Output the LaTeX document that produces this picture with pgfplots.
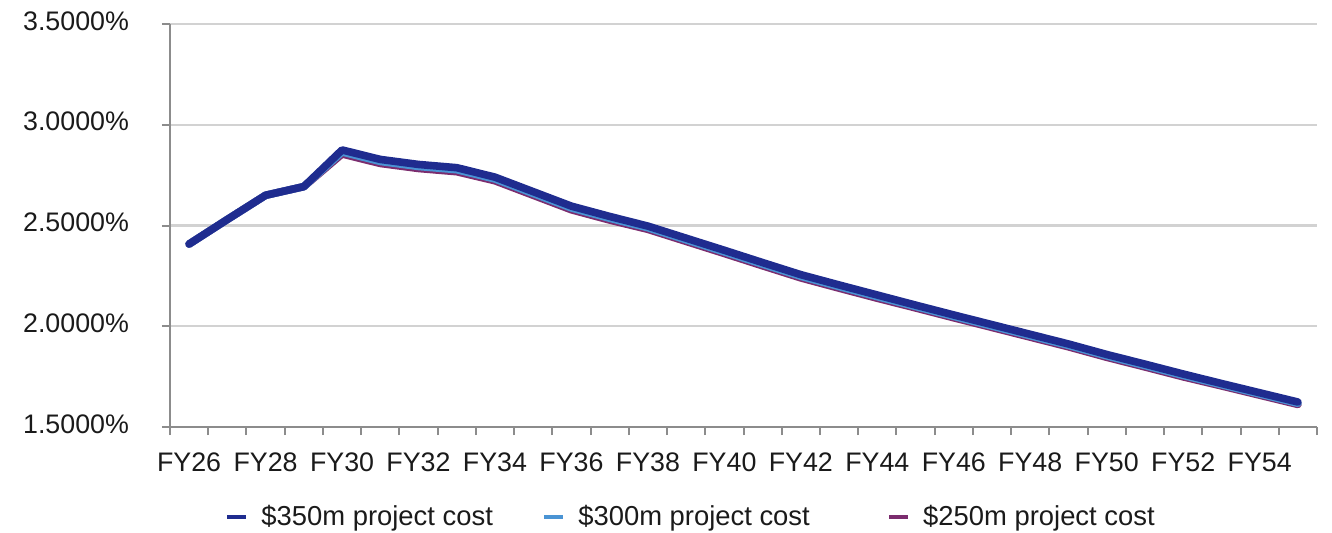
\documentclass[border=0pt]{standalone}
\usepackage{fontspec}
\setmainfont{Liberation Sans}
\usepackage{pgfplots}
\pgfplotsset{compat=1.18}
\usepackage{pgfplotstable}

\definecolor{cost350}{HTML}{1F2C8F}
\definecolor{cost300}{HTML}{4A94D4}
\definecolor{cost250}{HTML}{7B2C6E}
\definecolor{axisgrey}{HTML}{8C8C8C}
\definecolor{gridgrey}{HTML}{D2D2D2}
\definecolor{labeltext}{HTML}{1A1A1A}

% Financial years FY26..FY55 indexed 0..29
\pgfplotstableread{
idx c350  c300  c250
0   2.408 2.408 2.408
1   2.530 2.530 2.530
2   2.650 2.650 2.650
3   2.693 2.693 2.693
4   2.875 2.865 2.855
5   2.828 2.818 2.808
6   2.803 2.793 2.783
7   2.787 2.777 2.767
8   2.740 2.731 2.722
9   2.668 2.659 2.650
10  2.596 2.587 2.578
11  2.545 2.536 2.527
12  2.497 2.489 2.481
13  2.437 2.429 2.421
14  2.377 2.369 2.361
15  2.316 2.308 2.300
16  2.256 2.248 2.240
17  2.205 2.197 2.189
18  2.155 2.147 2.139
19  2.105 2.098 2.091
20  2.056 2.049 2.042
21  2.008 2.001 1.994
22  1.960 1.953 1.946
23  1.912 1.905 1.898
24  1.860 1.853 1.846
25  1.812 1.805 1.798
26  1.763 1.756 1.749
27  1.716 1.710 1.704
28  1.670 1.664 1.658
29  1.624 1.618 1.612
}\costdata

\begin{document}
\begin{tikzpicture}
\useasboundingbox (0,0) rectangle (666pt,266pt);
\begin{axis}[
  at={(85pt,52.5pt)}, anchor=south west,
  scale only axis, width=573.5pt, height=201.5pt,
  xmin=-0.5, xmax=29.5, ymin=1.5, ymax=3.5,
  axis x line*=bottom, axis y line*=left,
  axis line style={-, draw=axisgrey, line width=1pt},
  tick align=outside,
  major tick length=4pt, minor tick length=4pt,
  tick style={draw=axisgrey, line width=1pt},
  xtick={0,2,...,28},
  xticklabels={FY26,FY28,FY30,FY32,FY34,FY36,FY38,FY40,FY42,FY44,FY46,FY48,FY50,FY52,FY54},
  major x tick style={draw=none},
  minor xtick={-0.5,0.5,...,29.5},
  ytick={1.5,2,2.5,3,3.5},
  yticklabels={1.5000\%,2.0000\%,2.5000\%,3.0000\%,3.5000\%},
  ymajorgrids,
  major grid style={draw=gridgrey, line width=1.2pt},
  typeset ticklabels with strut,
  tick label style={font=\fontsize{13.4}{15.5}\selectfont, text=labeltext},
  yticklabel style={xshift=-13pt},
  xticklabel style={yshift=-4pt},
  legend columns=3,
  reverse legend,
  legend style={
    at={(axis description cs:0.455,-0.223)}, anchor=center,
    draw=none, fill=none,
    font=\fontsize{13.7}{16}\selectfont, text=labeltext,
    /tikz/every odd column/.append style={column sep=4.5pt},
    /tikz/every even column/.append style={column sep=22.5pt},
  },
  legend image code/.code={\draw[#1, line width=2.2pt, line cap=butt] (0pt,0pt) -- (9.5pt,0pt);},
]
\addplot[color=cost250, line width=3.8pt, line join=round, line cap=round] table[x=idx, y=c250] {\costdata};
\addlegendentry{\$250m project cost}
\addplot[color=cost300, line width=3.8pt, line join=round, line cap=round] table[x=idx, y=c300] {\costdata};
\addlegendentry{\$300m project cost\rule{14pt}{0pt}}
\addplot[color=cost350, line width=3.8pt, line join=round, line cap=round] table[x=idx, y=c350] {\costdata};
\addlegendentry{\$350m project cost}
\end{axis}
\end{tikzpicture}
\end{document}
